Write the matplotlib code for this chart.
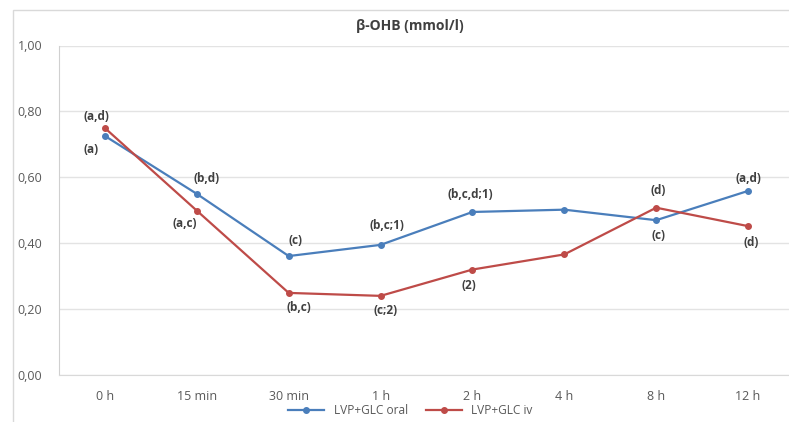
import matplotlib
matplotlib.use("Agg")
import matplotlib.pyplot as plt
from matplotlib.patches import Rectangle

plt.rcParams['font.family'] = ['Open Sans', 'DejaVu Sans']

# Datos: beta-hidroxibutirato por tiempo
tiempos = ['0 h', '15 min', '30 min', '1 h', '2 h', '4 h', '8 h', '12 h']
oral = [0.725, 0.549, 0.360, 0.394, 0.494, 0.501, 0.469, 0.558]
iv = [0.749, 0.498, 0.248, 0.239, 0.319, 0.365, 0.507, 0.451]

# Letras de significancia (texto, desplazamiento x, desplazamiento y en px)
etiquetas_oral = ['(a)', '(b,d)', '(c)', '(b,c;1)', '(b,c,d;1)', '', '(c)', '(a,d)']
pos_oral = [(-14, -14), (10, 15), (7, 16), (6, 19), (-2, 17), (0, 0), (2, -15), (0, 12)]
etiquetas_iv = ['(a,d)', '(a,c)', '(b,c)', '(c;2)', '(2)', '', '(d)', '(d)']
pos_iv = [(-8, 12), (-12, -13), (10, -15), (5, -15), (-4, -16), (0, 0), (2, 17), (3, -16)]

azul = '#4A7EBB'
rojo = '#BE4B48'

fig = plt.figure(figsize=(7.89, 4.22), dpi=100)
ax = fig.add_axes([59 / 789, 1 - 374.5 / 422, 735 / 789, 329 / 422])

x = range(len(tiempos))
ax.plot(x, oral, color=azul, lw=1.6, marker='o', ms=4, label='LVP+GLC oral', zorder=3)
ax.plot(x, iv, color=rojo, lw=1.6, marker='o', ms=4, label='LVP+GLC iv', zorder=3)

for i in x:
    if etiquetas_oral[i]:
        ax.annotate(etiquetas_oral[i], (i, oral[i]), xytext=pos_oral[i],
                    textcoords='offset pixels', ha='center', va='center',
                    fontsize=8.5, fontweight='bold', color='#404040')
    if etiquetas_iv[i]:
        ax.annotate(etiquetas_iv[i], (i, iv[i]), xytext=pos_iv[i],
                    textcoords='offset pixels', ha='center', va='center',
                    fontsize=8.5, fontweight='bold', color='#404040')

ax.set_xlim(-0.5, len(tiempos) - 0.5)
ax.set_ylim(0, 1.0)
ax.set_yticks([0, 0.2, 0.4, 0.6, 0.8, 1.0])
ax.set_yticklabels([f'{v:.2f}'.replace('.', ',') for v in [0, 0.2, 0.4, 0.6, 0.8, 1.0]])
ax.set_xticks(list(x))
ax.set_xticklabels(tiempos)
ax.tick_params(axis='both', length=0, labelsize=9, labelcolor='#595959')
ax.tick_params(axis='y', pad=12)
ax.tick_params(axis='x', pad=11)

ax.grid(axis='y', color='#E3E3E3', lw=1)
ax.set_axisbelow(True)
for lado in ['top', 'right']:
    ax.spines[lado].set_visible(False)
ax.spines['left'].set_color('#D0D0D0')
ax.spines['bottom'].set_color('#D9D9D9')

fig.text(410 / 789, 1 - 26 / 422, 'β-OHB (mmol/l)', ha='center', va='center',
         fontsize=10, fontweight='bold', color='#404040')

ax.legend(loc='center', bbox_to_anchor=(0.478, -0.11), ncol=2, frameon=False,
          fontsize=8.6, labelcolor='#595959', handlelength=3, columnspacing=1.5)

# Borde del gráfico
fig.patches.append(Rectangle((13 / 789, -0.01), 1.0, 1 - 10 / 422 + 0.01,
                             transform=fig.transFigure, fill=False,
                             edgecolor='#D9D9D9', lw=1))

fig.savefig('out.png', dpi=100)
